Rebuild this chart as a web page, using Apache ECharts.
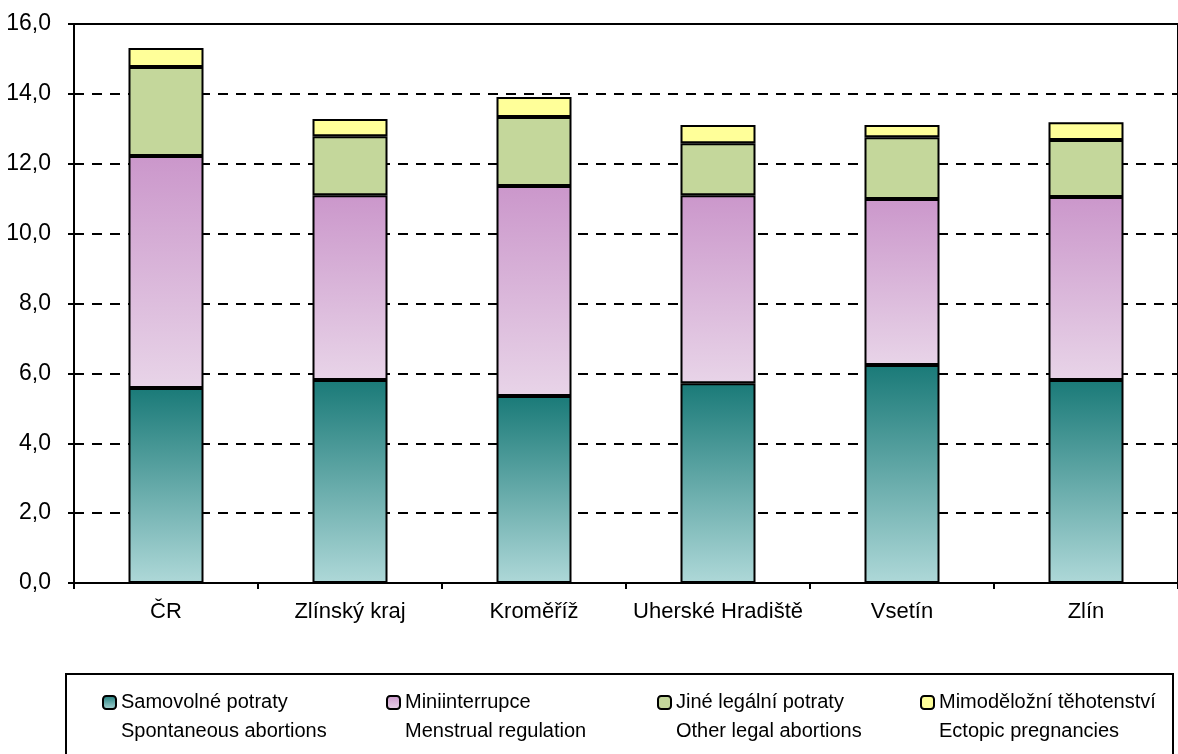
<!DOCTYPE html>
<html>
<head>
<meta charset="utf-8">
<script src="https://cdn.jsdelivr.net/npm/echarts@6/dist/echarts.min.js"></script>
<style>
  html,body{margin:0;padding:0;background:#fff;}
  #chart{width:1178px;height:754px;}
</style>
</head>
<body>
<div id="chart"></div>
<script>
// kategorie / categories
const regions = ['ČR', 'Zlínský kraj', 'Kroměříž', 'Uherské Hradiště', 'Vsetín', 'Zlín']

// hodnoty
const spontaneous = [5.58, 5.81, 5.35, 5.72, 6.24, 5.81]
const menstrual   = [6.64, 5.29, 6.01, 5.38, 4.75, 5.24]
const otherLegal  = [2.55, 1.69, 1.98, 1.49, 1.77, 1.63]
const ectopic     = [0.54, 0.49, 0.57, 0.52, 0.35, 0.51]

const namesCz = ['Samovolné potraty', 'Miniinterrupce', 'Jiné legální potraty', 'Mimoděložní těhotenství']
const namesEn = ['Spontaneous abortions', 'Menstrual regulation', 'Other legal abortions', 'Ectopic pregnancies']

const yTicks = [0, 2, 4, 6, 8, 10, 12, 14, 16]

const font = '"Liberation Sans", Arial, sans-serif'

let myChart = echarts.init(document.getElementById('chart'), null, {renderer: 'canvas'})

function grad(top, bottom) {
  return new echarts.graphic.LinearGradient(0, 0, 0, 1, [
    {offset: 0, color: top},
    {offset: 1, color: bottom}
  ])
}

const fills = [
  grad('#1a7a78', '#aed8d8'),
  grad('#cb97cb', '#e8d4e8'),
  '#c4d79b',
  '#ffff99'
]
const values = [spontaneous, menstrual, otherLegal, ectopic]

let series = values.map((v, i) => ({
  name: namesCz[i],
  type: 'bar',
  stack: 'a',
  barWidth: 75,
  data: v,
  itemStyle: {color: fills[i], borderColor: '#000', borderWidth: 2},
  emphasis: {disabled: true}
}))

// každá legenda zvlášť, aby šly umístit jako v originále
// prázdný první řádek -> ikona je u českého názvu
const legendLeft = [97, 381, 652, 915]
let legends = namesCz.map((n, i) => ({
  data: [n],
  left: legendLeft[i],
  top: 654,
  orient: 'horizontal',
  itemWidth: 13,
  itemHeight: 13,
  itemGap: 0,
  selectedMode: false,
  itemStyle: {borderColor: '#000', borderWidth: 2},
  formatter: () => ' \n' + n + '\n' + namesEn[i],
  textStyle: {
    fontFamily: font,
    fontSize: 20,
    color: '#000',
    lineHeight: 29
  }
}))

myChart.setOption({
  animation: false,
  backgroundColor: '#fff',
  grid: {
    left: 74, top: 24, width: 1116, height: 559,
    show: true, borderColor: '#000', borderWidth: 2
  },
  legend: legends,
  graphic: [{
    type: 'rect',
    shape: {x: 66, y: 674, width: 1107, height: 100},
    style: {fill: 'none', stroke: '#000', lineWidth: 2},
    z: -1
  }],
  xAxis: {
    type: 'category',
    data: regions,
    boundaryGap: true,
    axisLine: {lineStyle: {color: '#000', width: 2}},
    axisTick: {show: true, interval: 0, length: 6, lineStyle: {color: '#000', width: 2}},
    axisLabel: {color: '#000', fontFamily: font, fontSize: 22, margin: 18, interval: 0},
    z: 10
  },
  yAxis: {
    type: 'value',
    min: yTicks[0],
    max: yTicks[yTicks.length - 1],
    interval: 2,
    axisLine: {show: true, lineStyle: {color: '#000', width: 2}},
    axisTick: {show: true, length: 6, lineStyle: {color: '#000', width: 2}},
    axisLabel: {
      color: '#000', fontFamily: font, fontSize: 23, margin: 23,
      formatter: (v) => v.toFixed(1).replace('.', ',')
    },
    splitLine: {
      show: true,
      lineStyle: {color: '#000', width: 2, type: [10, 8]}
    }
  },
  series: series
})
</script>
</body>
</html>
